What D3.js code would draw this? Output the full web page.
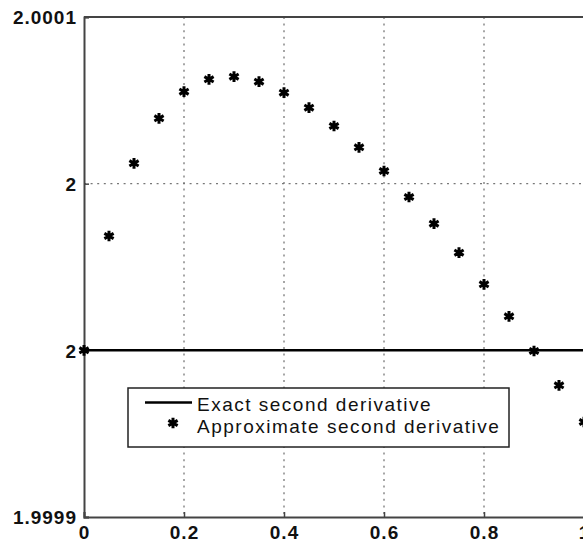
<!DOCTYPE html>
<html>
<head>
<meta charset="utf-8">
<script src="https://cdn.jsdelivr.net/npm/d3@7"></script>
<style>
  body { margin: 0; background: #fff; }
  .axis text { font-family: "Liberation Sans", Arial, sans-serif; font-weight: bold; font-size: 19px; fill: #111; letter-spacing: 1px; }
  .legend text { font-family: "Liberation Sans", Arial, sans-serif; font-size: 19px; fill: #111; letter-spacing: 1.5px; }
</style>
</head>
<body>
<div id="chart"></div>
<script>
const xValues = [0, 0.05, 0.1, 0.15, 0.2, 0.25, 0.3, 0.35, 0.4, 0.45, 0.5,
  0.55, 0.6, 0.65, 0.7, 0.75, 0.8, 0.85, 0.9, 0.95, 1];
const approxValues = [2.0000000, 2.0000343, 2.0000561, 2.0000696, 2.0000776, 2.0000813,
  2.0000821, 2.0000806, 2.0000773, 2.0000728, 2.0000673, 2.0000609, 2.0000538,
  2.0000460, 2.0000380, 2.0000293, 2.0000198, 2.0000102, 1.9999998, 1.9999895, 1.9999785];
const exactValue = 2;
const xTicks = [0, 0.2, 0.4, 0.6, 0.8, 1];
const xTickLabels = ['0', '0.2', '0.4', '0.6', '0.8', '1'];
const yTicks = [1.99995, 2, 2.00005, 2.0001];
const yTickLabels = ['1.9999', '2', '2', '2.0001'];
const legendLabels = ['Exact second derivative', 'Approximate second derivative'];

const margin = { left: 84, top: 17, right: 0, bottom: 26 };
const width = 583;
const height = 543;
const plotW = 500;
const plotH = height - margin.top - margin.bottom;

const x = d3.scaleLinear().domain([0, 1]).range([0, plotW]);
const y = d3.scaleLinear().domain([1.99995, 2.0001]).range([plotH, 0]);

const svg = d3.select('#chart').append('svg')
  .attr('width', width)
  .attr('height', height)
.append('g')
  .attr('transform', `translate(${margin.left}, ${margin.top})`);

// dotted grid
svg.append('g')
  .selectAll('line')
  .data(xTicks.slice(1))
  .join('line')
    .attr('x1', (d) => x(d)).attr('x2', (d) => x(d))
    .attr('y1', 0).attr('y2', plotH)
    .attr('stroke', '#777').attr('stroke-width', 1.3)
    .attr('stroke-dasharray', '2,4.6');

svg.append('g')
  .selectAll('line')
  .data(yTicks.slice(1, 3))
  .join('line')
    .attr('x1', 0).attr('x2', plotW)
    .attr('y1', (d) => y(d)).attr('y2', (d) => y(d))
    .attr('stroke', '#777').attr('stroke-width', 1.3)
    .attr('stroke-dasharray', '2,4.6');

// axes
const xAxis = d3.axisBottom(x)
  .tickValues(xTicks)
  .tickSize(-5)
  .tickPadding(9)
  .tickFormat((d, i) => xTickLabels[i]);

const yAxis = d3.axisLeft(y)
  .tickValues(yTicks)
  .tickSize(-5)
  .tickPadding(7)
  .tickFormat((d, i) => yTickLabels[i]);

svg.append('g')
  .attr('class', 'x-axis axis')
  .attr('transform', `translate(0, ${plotH})`)
  .call(xAxis);

svg.append('g')
  .attr('class', 'y-axis axis')
  .call(yAxis);

svg.selectAll('.axis path').attr('stroke', '#444').attr('stroke-width', 2);
svg.selectAll('.axis .tick line').attr('stroke', '#444').attr('stroke-width', 1.5);
svg.selectAll('.y-axis .tick text').attr('dy', '0.36em');

svg.append('line')
  .attr('x1', 0).attr('x2', plotW)
  .attr('y1', 0).attr('y2', 0)
  .attr('stroke', '#444').attr('stroke-width', 2);

// exact line
const line = d3.line()
  .x((d) => x(d))
  .y(() => y(exactValue));

svg.append('path')
  .datum(xValues)
  .attr('d', line)
  .attr('fill', 'none')
  .attr('stroke', '#000')
  .attr('stroke-width', 2.5);

// approximate points
const star = d3.symbol().type(d3.symbolAsterisk).size(80);

svg.selectAll('.approx-dot')
  .data(xValues)
  .join('path')
    .attr('class', 'approx-dot')
    .attr('d', star)
    .attr('transform', (d, i) => `translate(${x(d)}, ${y(approxValues[i])})`)
    .attr('fill', 'none')
    .attr('stroke', '#000')
    .attr('stroke-width', 3);

// legend
const legend = svg.append('g')
  .attr('class', 'legend')
  .attr('transform', `translate(${128 - margin.left}, ${388 - margin.top})`);

legend.append('rect')
  .attr('width', 381).attr('height', 59)
  .attr('fill', '#fff')
  .attr('stroke', '#222').attr('stroke-width', 1.5);

legend.append('line')
  .attr('x1', 17).attr('x2', 64)
  .attr('y1', 14.5).attr('y2', 14.5)
  .attr('stroke', '#000').attr('stroke-width', 2.5);

legend.append('path')
  .attr('d', star)
  .attr('transform', 'translate(45, 35)')
  .attr('fill', 'none')
  .attr('stroke', '#000')
  .attr('stroke-width', 3);

legend.selectAll('text')
  .data(legendLabels)
  .join('text')
    .attr('x', 69)
    .attr('y', (d, i) => 23 + i * 22)
    .text((d) => d);
</script>
</body>
</html>
